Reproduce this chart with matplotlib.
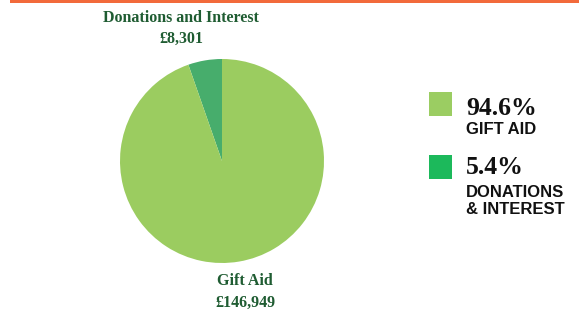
import matplotlib.pyplot as plt
from matplotlib.patches import Rectangle

categories = ['Donations and Interest', 'Gift Aid']
amounts = [8301, 146949]
amount_labels = ['£8,301', '£146,949']
percent_labels = ['94.6%', '5.4%']
legend_names = ['GIFT AID', 'DONATIONS\n& INTEREST']

pie_colors = ['#47ad6c', '#9bcc60']
legend_colors = ['#9bcd62', '#1cb95b']
label_color = '#1f5c32'

W, H = 579, 311
fig = plt.figure(figsize=(W / 100, H / 100), dpi=100)
fig.patch.set_facecolor('white')

serif = ['Liberation Serif', 'DejaVu Serif']
sans = ['Liberation Sans', 'DejaVu Sans']

# orange rule along the top
fig.add_artist(Rectangle((10 / W, 1 - 3 / H), 1, 3 / H, transform=fig.transFigure,
                         color='#f26a3b', lw=0))

# pie
cx, cy, r = 222, 161, 102
ax = fig.add_axes([(cx - r) / W, (H - cy - r) / H, 2 * r / W, 2 * r / H])
ax.pie(amounts, colors=pie_colors, startangle=90, counterclock=True,
       radius=1, wedgeprops=dict(linewidth=0))
ax.set_xlim(-1, 1)
ax.set_ylim(-1, 1)
ax.set_aspect('auto')
ax.axis('off')

def px(x, y):
    return x / W, 1 - y / H

def label(x, y, s):
    fig.text(*px(x, y), s, color=label_color, fontsize=11.5, fontweight='bold',
             family=serif, ha='center', va='center')

label(181, 18, categories[0])
label(181, 39, amount_labels[0])
label(245, 281, categories[1])
label(245, 303, amount_labels[1])

# legend
rows = [(92, 108, 123), (155, 168, 186)]
for (sq_top, pct_y, name_top), col, pct, name in zip(rows, legend_colors, percent_labels, legend_names):
    fig.add_artist(Rectangle(px(429, sq_top + 24), 23 / W, 24 / H,
                             transform=fig.transFigure, color=col, lw=0))
    fig.text(*px(466, pct_y), pct, color='#111111', fontsize=18.5,
             fontweight='bold', family=serif, ha='left', va='center')
    fig.text(*px(466, name_top - 1), name, color='#111111', fontsize=12,
             fontweight='bold', family=sans, ha='left', va='top', linespacing=1.2)

fig.savefig('out.png', dpi=100)
